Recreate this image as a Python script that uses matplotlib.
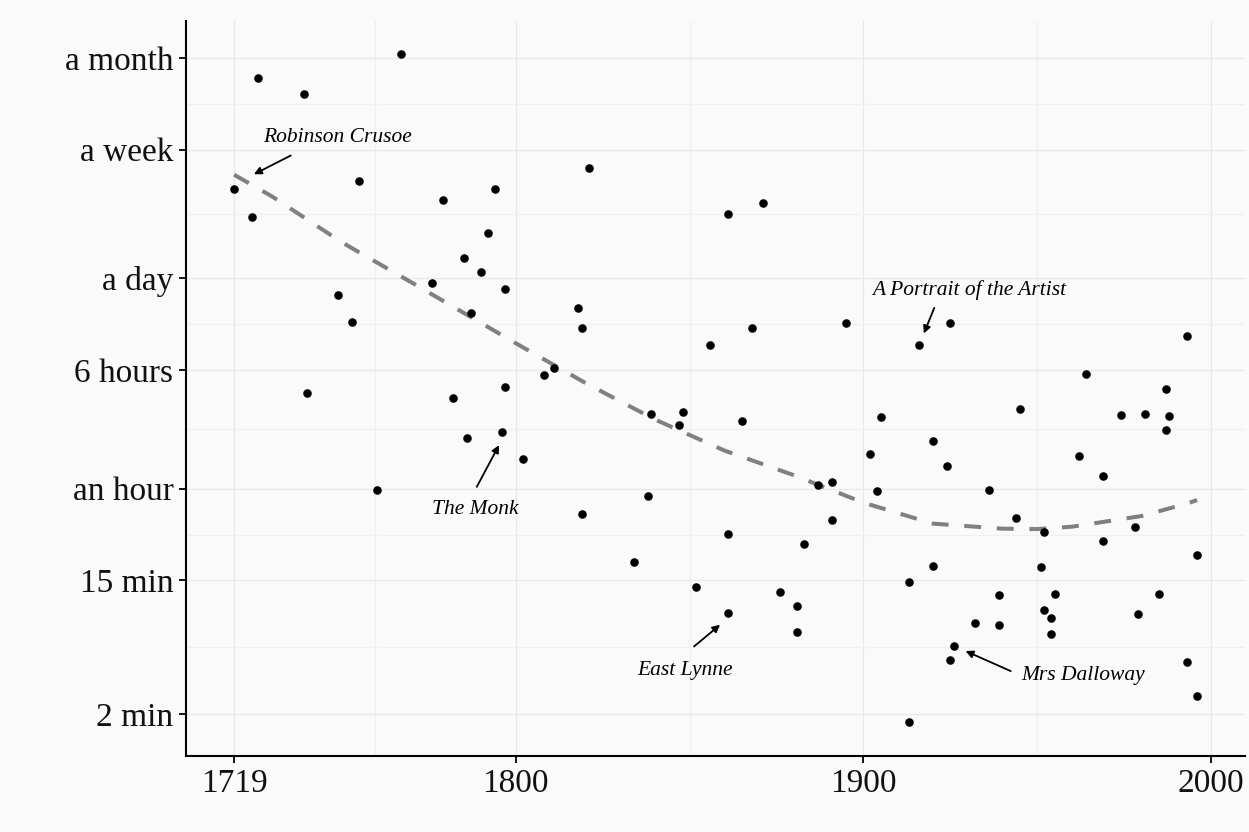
import numpy as np
import matplotlib
matplotlib.use("Agg")
import matplotlib.pyplot as plt
from matplotlib.ticker import FixedLocator, NullFormatter

# ---- data (year of publication, time span of a scene in minutes) ----
years = [1719, 1724, 1726, 1739, 1767, 1755, 1749, 1753, 1740, 1760,
         1776, 1779, 1785, 1787, 1790, 1792, 1794, 1797, 1782, 1786,
         1797, 1796, 1802, 1808, 1811, 1818, 1819, 1821, 1819, 1834,
         1838, 1839, 1847, 1848, 1852, 1856, 1861, 1861, 1861, 1865,
         1868, 1871, 1876, 1881, 1881, 1883, 1887, 1891, 1891, 1895,
         1902, 1904, 1905, 1913, 1913, 1916, 1920, 1920, 1924, 1925,
         1925, 1926, 1932, 1936, 1939, 1939, 1944, 1945, 1951, 1952,
         1952, 1954, 1954, 1955, 1962, 1964, 1969, 1969, 1974, 1978,
         1979, 1981, 1985, 1987, 1987, 1988, 1993, 1993, 1996, 1996]
minutes = [5546, 3632, 29650, 23280, 42660, 6252, 1117, 743, 254, 58.7,
           1340, 4700, 1954, 851, 1581, 2852, 5546, 1225, 236, 128.8,
           278.6, 141, 93.8, 333.6, 370.8, 918, 679, 7620, 40.8, 19.8,
           53.6, 185, 156.8, 191, 13.6, 525, 3802, 30.2, 9.16, 166.7,
           679, 4488, 12.6, 10.2, 6.87, 26.0, 63.4, 66.2, 37.3, 732.6,
           101.2, 57.8, 177, 14.6, 1.76, 525, 123, 18.6, 84.4, 732.6,
           4.5, 5.56, 7.87, 58.7, 12.0, 7.64, 38.5, 199.7, 18.4, 31.1,
           9.57, 8.49, 6.67, 12.2, 98.2, 338.9, 72.6, 27.2, 182.4, 33.6,
           9.02, 185, 12.2, 270, 145.4, 179.6, 601, 4.37, 22.0, 2.61]

# smoothed trend
trend_years = [1719, 1730, 1750, 1770, 1800, 1820, 1840, 1860, 1880,
               1900, 1920, 1940, 1950, 1960, 1980, 1993, 1996]
trend_minutes = [6902, 4956, 2484, 1356, 541, 297, 171, 106.9, 73.6,
                 48.6, 35.4, 32.8, 32.6, 33.8, 39.7, 47.9, 50.5]

x_ticks = [1719, 1800, 1900, 2000]
y_ticks = [2, 15, 60, 360, 1440, 10080, 40320]
y_tick_labels = ["2 min", "15 min", "an hour", "6 hours", "a day", "a week", "a month"]

# labelled novels: (label, text position, arrow start, arrow tip)
labels = ["Robinson Crusoe", "The Monk", "East Lynne",
          "A Portrait of the Artist", "Mrs Dalloway"]
label_pos = [(1748.6, 12162), (1788.5, 44.1), (1848.7, 3.87),
             (1930.4, 1205), (1963.2, 3.59)]
arrow_start = [(1735.3, 9226), (1788.8, 61.7), (1851.3, 5.53),
               (1920.4, 923), (1942.4, 3.81)]
arrow_tip = [(1724.7, 6950), (1795.2, 115.9), (1858.8, 7.68),
             (1917.4, 627), (1929.4, 5.16)]

# ---- figure ----
plt.rcParams["font.family"] = ["Liberation Serif", "DejaVu Serif"]
bg = "#FAFAFA"
fig = plt.figure(figsize=(12.49, 8.32), dpi=100)
fig.patch.set_facecolor(bg)
ax = fig.add_axes([0.1489, 0.0918, 0.8481, 0.8832])
ax.set_facecolor(bg)
ax.set_yscale("log")

yr = np.array(years, dtype=float)
lm = np.log10(np.array(minutes, dtype=float))
xpad = 0.05 * (yr.max() - yr.min())
ypad = 0.05 * (lm.max() - lm.min())
ax.set_xlim(yr.min() - xpad, yr.max() + xpad)
ax.set_ylim(10 ** (lm.min() - ypad), 10 ** (lm.max() + ypad))

# grid: major at breaks, minor at midpoints (ggplot style)
ax.set_axisbelow(True)
ax.xaxis.set_major_locator(FixedLocator(x_ticks))
ax.set_xticklabels([str(t) for t in x_ticks])
ax.yaxis.set_major_locator(FixedLocator(y_ticks))
ax.set_yticklabels(y_tick_labels)
xt = np.array(x_ticks, dtype=float)
yt = np.array(y_ticks, dtype=float)
ax.xaxis.set_minor_locator(FixedLocator((xt[:-1] + xt[1:]) / 2))
ax.yaxis.set_minor_locator(FixedLocator(np.sqrt(yt[:-1] * yt[1:])))
ax.xaxis.set_minor_formatter(NullFormatter())
ax.yaxis.set_minor_formatter(NullFormatter())
ax.grid(which="major", color="#E8E8E8", lw=0.9)
ax.grid(which="minor", color="#F0F0F0", lw=0.9)

for s in ("top", "right"):
    ax.spines[s].set_visible(False)
for s in ("left", "bottom"):
    ax.spines[s].set_color("black")
    ax.spines[s].set_linewidth(1.5)
ax.tick_params(which="major", length=5, width=1.3, color="black",
               labelsize=24, pad=4, labelcolor="#111111")
ax.tick_params(which="minor", length=0)

# trend and points
ax.plot(trend_years, trend_minutes, color="#808080", lw=2.9,
        dashes=(4.2, 3.9), zorder=2)
ax.scatter(years, minutes, s=38, color="black", linewidths=0, zorder=3)

# annotations
for lab, tp, a0, a1 in zip(labels, label_pos, arrow_start, arrow_tip):
    ax.text(tp[0], tp[1], lab, ha="center", va="center", fontsize=15.5,
            style="italic", color="black", zorder=4)
    ax.annotate("", xy=a1, xytext=a0,
                arrowprops=dict(arrowstyle="-|>", color="black", lw=1.3,
                                mutation_scale=11, shrinkA=0, shrinkB=0),
                zorder=4)

fig.savefig("out.png", dpi=100, facecolor=bg)
